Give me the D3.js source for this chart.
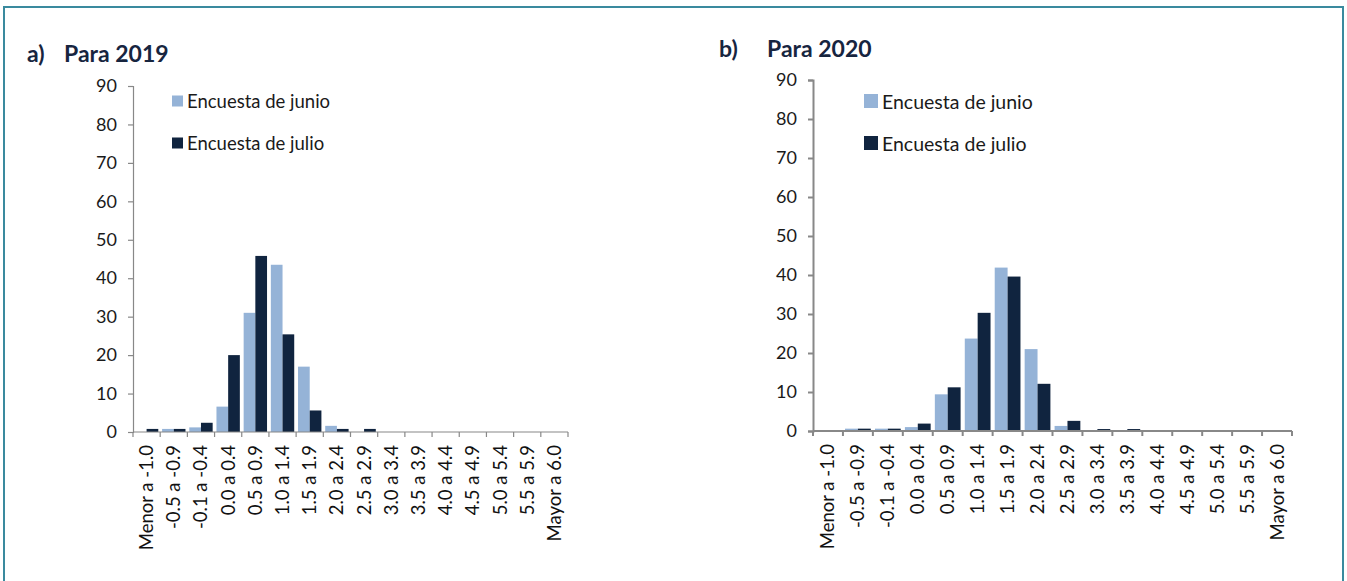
<!DOCTYPE html>
<html>
<head>
<meta charset="utf-8">
<script src="https://cdn.jsdelivr.net/npm/d3@7"></script>
<style>
  html, body { margin: 0; padding: 0; background: #fff; }
  svg { display: block; font-family: Lato, "Open Sans", sans-serif; }
</style>
</head>
<body>
<svg id="chart" width="1347" height="581"></svg>
<script>
const categories = ["Menor a -1.0", "-0.5 a -0.9", "-0.1 a -0.4", "0.0 a 0.4", "0.5 a 0.9",
  "1.0 a 1.4", "1.5 a 1.9", "2.0 a 2.4", "2.5 a 2.9", "3.0 a 3.4", "3.5 a 3.9",
  "4.0 a 4.4", "4.5 a 4.9", "5.0 a 5.4", "5.5 a 5.9", "Mayor a 6.0"];
const seriesNames = ["Encuesta de junio", "Encuesta de julio"];
const junio2019 = [0, 0.8, 1.2, 6.6, 31.0, 43.5, 17.0, 1.6, 0, 0, 0, 0, 0, 0, 0, 0];
const julio2019 = [0.8, 0.8, 2.4, 20.0, 45.8, 25.4, 5.6, 0.8, 0.8, 0, 0, 0, 0, 0, 0, 0];
const junio2020 = [0, 0.6, 0.6, 1.0, 9.4, 23.7, 41.9, 21.0, 1.3, 0, 0, 0, 0, 0, 0, 0];
const julio2020 = [0, 0.6, 0.6, 1.9, 11.2, 30.3, 39.6, 12.1, 2.6, 0.5, 0.5, 0, 0, 0, 0, 0];
const yTicks = [0, 10, 20, 30, 40, 50, 60, 70, 80, 90];
const panelLetters = ["a)", "b)"];
const panelTitles = ["Para 2019", "Para 2020"];

const colors = ["#95B3D7", "#10243F"];
const svg = d3.select("#chart");

// outer frame
svg.append("rect").attr("x", 4).attr("y", 7).attr("width", 1339).attr("height", 590)
  .attr("fill", "none").attr("stroke", "#3A8A9E").attr("stroke-width", 2);

const panels = [
  { letter: panelLetters[0], title: panelTitles[0], data: [junio2019, julio2019],
    x0: 133, x1: 568, yb: 432, yt: 86, letterX: 27, titleX: 64, titleY: 62, titleFont: 23,
    legX: 172, legSq: 11, legFont: 18.5, legY: [102, 144], tickFont: 18, xFont: 18.5, axisW: 1.2 },
  { letter: panelLetters[1], title: panelTitles[1], data: [junio2020, julio2020],
    x0: 813, x1: 1292, yb: 431, yt: 80, letterX: 719, titleX: 767, titleY: 57, titleFont: 23,
    legX: 864, legSq: 14, legFont: 19.5, legY: [102, 144], tickFont: 18, xFont: 18.5, axisW: 2 }
];

panels.forEach(p => {
  const g = svg.append("g");
  const x = d3.scaleBand().domain(categories).range([p.x0, p.x1]).padding(0);
  const xs = d3.scaleBand().domain(seriesNames).range([x.bandwidth() * 0.07, x.bandwidth() * 0.93]).padding(0);
  const y = d3.scaleLinear().domain([0, 90]).range([p.yb, p.yt]);

  // title
  g.append("text").attr("x", p.letterX).attr("y", p.titleY).text(p.letter)
    .attr("font-size", p.titleFont).attr("font-weight", "bold").attr("fill", "#17253F");
  g.append("text").attr("x", p.titleX).attr("y", p.titleY).text(p.title)
    .attr("font-size", p.titleFont).attr("font-weight", "bold").attr("fill", "#17253F");

  // bars
  seriesNames.forEach((s, si) => {
    g.append("g").selectAll("rect").data(p.data[si]).join("rect")
      .attr("x", (d, i) => x(categories[i]) + xs(s))
      .attr("y", d => y(d))
      .attr("width", xs.bandwidth())
      .attr("height", d => p.yb - y(d))
      .attr("fill", colors[si]);
  });

  // y axis
  const yAxis = d3.axisLeft(y).tickValues(yTicks).tickSize(5).tickPadding(11);
  const ya = g.append("g").attr("transform", `translate(${p.x0},0)`).call(yAxis);
  ya.select(".domain").attr("stroke", "#888").attr("stroke-width", p.axisW);
  ya.selectAll(".tick line").attr("stroke", "#888").attr("stroke-width", p.axisW);
  ya.selectAll(".tick text").attr("font-size", p.tickFont).attr("fill", "#1a1a1a")
    .attr("font-family", "Lato, sans-serif");

  // x axis with ticks at band boundaries
  const xa = g.append("g").attr("transform", `translate(0,${p.yb})`);
  xa.append("line").attr("x1", p.x0).attr("x2", p.x1).attr("stroke", "#888").attr("stroke-width", p.axisW);
  const bounds = categories.map(c => x(c)).concat([p.x1]);
  xa.selectAll("line.tk").data(bounds).join("line").attr("class", "tk")
    .attr("x1", d => d).attr("x2", d => d).attr("y1", 0).attr("y2", 5)
    .attr("stroke", "#888").attr("stroke-width", p.axisW);
  xa.selectAll("text").data(categories).join("text")
    .attr("transform", c => `translate(${x(c) + x.bandwidth() / 2},13) rotate(-90)`)
    .attr("text-anchor", "end")
    .attr("dy", "0.35em")
    .attr("font-size", p.xFont).attr("fill", "#111")
    .text(c => c);

  // legend
  seriesNames.forEach((s, si) => {
    g.append("rect").attr("x", p.legX).attr("y", p.legY[si] - p.legSq / 2 - 1)
      .attr("width", p.legSq).attr("height", p.legSq).attr("fill", colors[si]);
    g.append("text").attr("x", p.legX + p.legSq + 4).attr("y", p.legY[si])
      .attr("dy", "0.35em").attr("font-size", p.legFont).attr("fill", "#1a1a1a").text(s);
  });
});
</script>
</body>
</html>
